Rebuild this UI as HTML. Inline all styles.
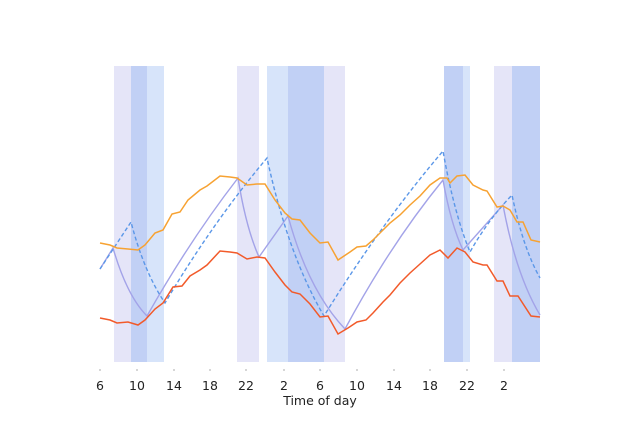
<!DOCTYPE html>
<html><head><meta charset="utf-8"><style>body{margin:0;background:#fff}svg{display:block}text{font-family:"DejaVu Sans","Liberation Sans",sans-serif;fill:#222;font-size:12.5px}</style></head><body>
<svg width="624" height="424" viewBox="0 0 624 424" xmlns="http://www.w3.org/2000/svg">
<g>
<rect x="114" y="66" width="17" height="296" fill="#e5e5f8"/>
<rect x="131" y="66" width="16" height="296" fill="#c1d0f5"/>
<rect x="147" y="66" width="17" height="296" fill="#d7e4fa"/>
<rect x="237" y="66" width="22" height="296" fill="#e5e5f8"/>
<rect x="267" y="66" width="21" height="296" fill="#d7e4fa"/>
<rect x="288" y="66" width="36" height="296" fill="#c1d0f5"/>
<rect x="324" y="66" width="21" height="296" fill="#e5e5f8"/>
<rect x="444" y="66" width="19" height="296" fill="#c1d0f5"/>
<rect x="463" y="66" width="7" height="296" fill="#d7e4fa"/>
<rect x="494" y="66" width="18" height="296" fill="#e5e5f8"/>
<rect x="512" y="66" width="28" height="296" fill="#c1d0f5"/>
</g>
<path d="M100,269 L113,248 Q127,296 147,316 Q190,240 238,178 Q246,228 259,257 L288,216 Q308,290 345,329 Q390,245 443,180 Q451,225 463,250 L503,205 Q516,275 540,315" fill="none" stroke="#a3a3e8" stroke-width="1.4"/>
<path d="M100,269 L131,222 Q144,272 165,303 Q213,222 267,158 Q288,255 324,316 Q380,225 443,151 Q454,213 470,252 Q488,220 512,195 Q523,248 540,278" fill="none" stroke="#5b97e8" stroke-width="1.4" stroke-dasharray="4,2.5"/>
<polyline fill="none" stroke="#f7a232" stroke-width="1.5" points="100,243 110,245 117,248 128,249 138,250 145,245 155,233 163,230 172,214 180,212 188,200 200,190 207,186 220,176 230,177 237,178 247,185 257,184 265,184 275,200 285,213 292,219 300,220 310,233 320,243 328,242 338,260 350,252 357,247 366,246 373,240 383,230 390,223 400,215 410,205 420,196 430,185 440,178 447,178 450,183 457,176 465,175 473,185 483,190 487,191 497,207 503,206 510,210 517,222 523,222 531,240 540,242"/>
<polyline fill="none" stroke="#f25a2a" stroke-width="1.5" points="100,318 110,320 117,323 128,322 138,325 145,320 155,309 163,303 173,287 182,286 190,276 200,270 207,265 220,251 230,252 237,253 247,259 257,257 265,258 275,272 285,285 292,292 300,294 310,304 320,317 328,316 338,334 348,328 357,322 366,320 373,313 383,302 390,295 400,283 410,273 420,264 430,255 440,250 448,258 457,248 465,252 473,262 483,265 487,265 497,281 503,281 510,296 518,296 531,316 540,317"/>
<g stroke="#999" stroke-width="0.8">
<line x1="100" y1="369" x2="100" y2="371"/><line x1="137" y1="369" x2="137" y2="371"/><line x1="174" y1="369" x2="174" y2="371"/><line x1="210" y1="369" x2="210" y2="371"/><line x1="246" y1="369" x2="246" y2="371"/><line x1="284" y1="369" x2="284" y2="371"/><line x1="320" y1="369" x2="320" y2="371"/><line x1="357" y1="369" x2="357" y2="371"/><line x1="394" y1="369" x2="394" y2="371"/><line x1="430" y1="369" x2="430" y2="371"/><line x1="467" y1="369" x2="467" y2="371"/><line x1="504" y1="369" x2="504" y2="371"/>
</g>
<g text-anchor="middle">
<text x="100" y="390">6</text><text x="137" y="390">10</text><text x="174" y="390">14</text><text x="210" y="390">18</text><text x="246" y="390">22</text><text x="284" y="390">2</text><text x="320" y="390">6</text><text x="357" y="390">10</text><text x="394" y="390">14</text><text x="430" y="390">18</text><text x="467" y="390">22</text><text x="504" y="390">2</text>
<text x="320" y="405">Time of day</text>
</g>
</svg>
</body></html>
